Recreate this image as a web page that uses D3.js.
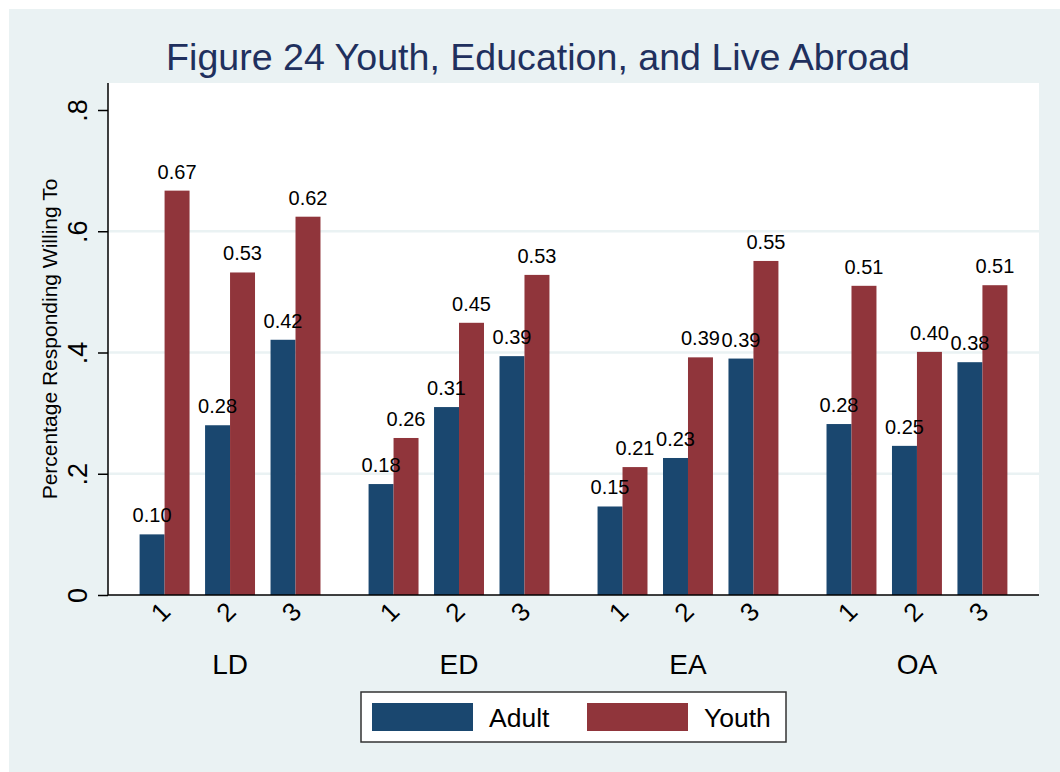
<!DOCTYPE html>
<html lang="en">
<head>
  <meta charset="UTF-8">
  <title>Figure 24</title>
  <style>
    body { margin: 0; background: #fff; }
    svg text { font-family: "Liberation Sans", Arial, sans-serif; }
  </style>
</head>
<body>
  <svg width="1060" height="772"></svg>

  <script src="https://d3js.org/d3.v7.min.js"></script>
  <script>
    // data
    const groups = ['LD', 'ED', 'EA', 'OA'];
    const levels = ['1', '2', '3'];
    const seriesNames = ['Adult', 'Youth'];
    const adultValues = [0.100, 0.280, 0.421, 0.183, 0.310, 0.394, 0.146, 0.226, 0.390, 0.282, 0.246, 0.384];
    const youthValues = [0.667, 0.532, 0.624, 0.259, 0.449, 0.528, 0.211, 0.392, 0.551, 0.510, 0.401, 0.511];
    const yTickValues = [0, 0.2, 0.4, 0.6, 0.8];
    const yTickLabels = ['0', '.2', '.4', '.6', '.8'];
    const colors = { Adult: '#1a476f', Youth: '#90353b' };

    const svg = d3.select('svg');
    const plot = { left: 108, right: 1039, top: 83, bottom: 595 };

    // outer region
    svg.append('rect')
      .attr('x', 9).attr('y', 9)
      .attr('width', 1051).attr('height', 763)
      .attr('fill', '#eaf2f3');

    svg.append('rect')
      .attr('x', plot.left).attr('y', plot.top)
      .attr('width', plot.right - plot.left).attr('height', plot.bottom - plot.top)
      .attr('fill', '#fff');

    svg.append('text')
      .attr('x', 538).attr('y', 70)
      .attr('text-anchor', 'middle')
      .attr('font-size', 37.6)
      .attr('fill', '#1f305e')
      .text('Figure 24 Youth, Education, and Live Abroad');

    const y = d3.scaleLinear().domain([0, 0.8]).range([plot.bottom, 110]);

    const x0 = d3.scaleBand().domain(groups)
      .range([plot.left, plot.right])
      .paddingInner(0.21).paddingOuter(0.138);
    const x1 = d3.scaleBand().domain(levels)
      .range([0, x0.bandwidth()])
      .paddingInner(0.237).paddingOuter(0);
    const x2 = d3.scaleBand().domain(seriesNames)
      .range([0, x1.bandwidth()]);

    // grid
    svg.append('g').selectAll('line')
      .data(yTickValues.filter(d => d > 0 && d < 0.8))
      .join('line')
      .attr('x1', plot.left).attr('x2', plot.right)
      .attr('y1', d => y(d)).attr('y2', d => y(d))
      .attr('stroke', '#eaf2f3')
      .attr('stroke-width', 2.5);

    const rows = [];
    groups.forEach((g, gi) => {
      levels.forEach((l, li) => {
        const i = gi * levels.length + li;
        rows.push({ group: g, level: l, series: 'Adult', value: adultValues[i] });
        rows.push({ group: g, level: l, series: 'Youth', value: youthValues[i] });
      });
    });

    const bx = d => x0(d.group) + x1(d.level) + x2(d.series);

    svg.append('g').selectAll('rect')
      .data(rows)
      .join('rect')
      .attr('x', bx)
      .attr('y', d => y(d.value))
      .attr('width', x2.bandwidth())
      .attr('height', d => y(0) - y(d.value))
      .attr('fill', d => colors[d.series]);

    svg.append('g').selectAll('text')
      .data(rows)
      .join('text')
      .attr('x', d => bx(d) + x2.bandwidth() / 2)
      .attr('y', d => y(d.value) - 12)
      .attr('text-anchor', 'middle')
      .attr('font-size', 20)
      .attr('fill', '#000')
      .text(d => d3.format('.2f')(d.value));

    // y axis
    const yAxis = svg.append('g')
      .attr('transform', `translate(${plot.left},0)`)
      .call(d3.axisLeft(y).tickValues(yTickValues).tickSize(10)
        .tickFormat((d, i) => yTickLabels[i]));
    yAxis.select('.domain')
      .attr('d', `M0,${plot.top}V${plot.bottom}`)
      .attr('stroke', '#000').attr('stroke-width', 1.5);
    yAxis.selectAll('.tick line').attr('stroke', '#000').attr('stroke-width', 1.5);
    yAxis.selectAll('.tick text')
      .attr('x', null).attr('dy', null)
      .attr('transform', 'translate(-21,0) rotate(-90)')
      .attr('text-anchor', 'middle')
      .attr('font-size', 27)
      .attr('font-family', '"Liberation Sans", Arial, sans-serif')
      .attr('fill', '#000');

    svg.append('text')
      .attr('transform', 'translate(57,339) rotate(-90)')
      .attr('text-anchor', 'middle')
      .attr('font-size', 21)
      .text('Percentage Responding Willing To');

    // x axis
    svg.append('line')
      .attr('x1', plot.left).attr('x2', plot.right)
      .attr('y1', plot.bottom).attr('y2', plot.bottom)
      .attr('stroke', '#000').attr('stroke-width', 1.5);

    const levelTicks = [];
    groups.forEach(g => levels.forEach(l => levelTicks.push({ group: g, level: l })));

    svg.append('g').selectAll('text')
      .data(levelTicks)
      .join('text')
      .attr('transform', d => {
        const cx = x0(d.group) + x1(d.level) + x1.bandwidth() / 2;
        return `translate(${cx - 4},${plot.bottom + 17}) rotate(-45)`;
      })
      .attr('text-anchor', 'middle')
      .attr('dominant-baseline', 'central')
      .attr('font-size', 26)
      .text(d => d.level);

    svg.append('g').selectAll('text')
      .data(groups)
      .join('text')
      .attr('x', d => x0(d) + x0.bandwidth() / 2)
      .attr('y', 674)
      .attr('text-anchor', 'middle')
      .attr('font-size', 28)
      .text(d => d);

    // legend
    const legend = svg.append('g');
    legend.append('rect')
      .attr('x', 361).attr('y', 692)
      .attr('width', 425).attr('height', 50)
      .attr('fill', '#fff')
      .attr('stroke', '#333').attr('stroke-width', 1.5);
    const items = legend.selectAll('g')
      .data(seriesNames)
      .join('g')
      .attr('transform', (d, i) => `translate(${372 + i * 215},0)`);
    items.append('rect')
      .attr('y', 703).attr('width', 101).attr('height', 28)
      .attr('fill', d => colors[d]);
    items.append('text')
      .attr('x', 117).attr('y', 727)
      .attr('font-size', 26.5)
      .text(d => d);
  </script>
</body>
</html>
